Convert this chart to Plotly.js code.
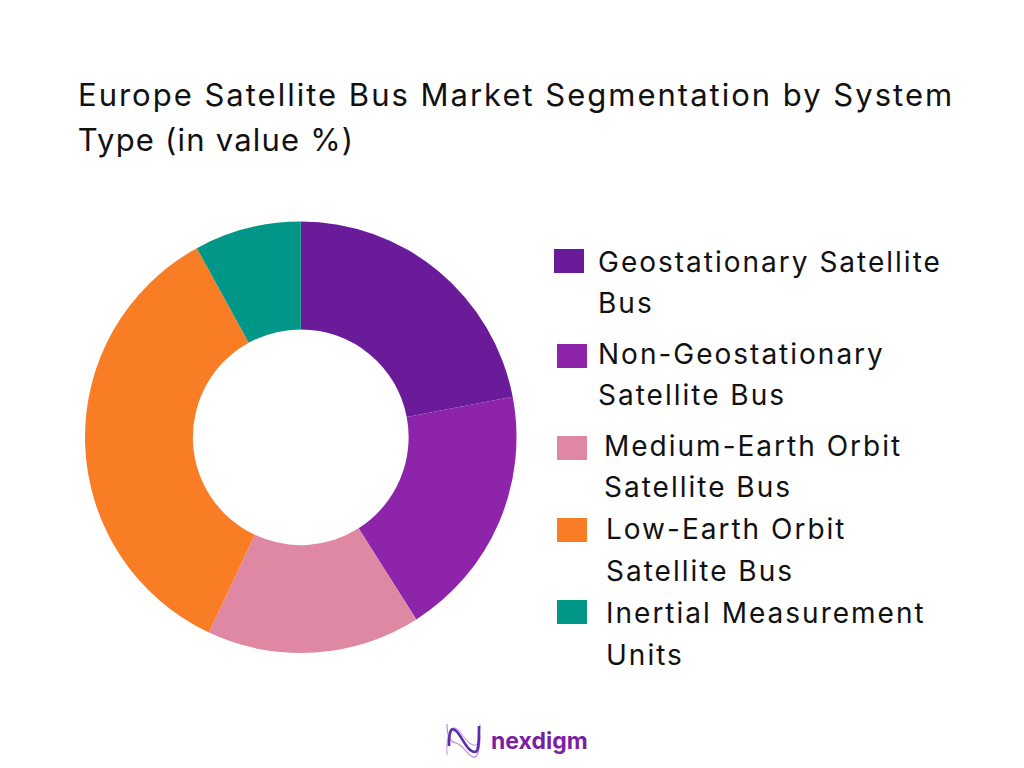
<!DOCTYPE html>
<html><head><meta charset="utf-8">
<script src="https://cdn.plot.ly/plotly-3.0.1.min.js"></script>
<style>html,body{margin:0;padding:0;background:#fff}#c{width:1024px;height:768px}
.annotation-text,.gtitle{letter-spacing:2px}
.annotation[data-index="10"] .annotation-text{letter-spacing:1.2px}
.annotation[data-index="11"] .annotation-text{letter-spacing:0}
</style>
</head><body><div id="c"></div>
<script>
const categories = ["Geostationary Satellite Bus","Non-Geostationary Satellite Bus","Medium-Earth Orbit Satellite Bus","Low-Earth Orbit Satellite Bus","Inertial Measurement Units"];
const values = [22,19,16,35,8];
const colors = ["#6A1B9A","#8E24AA","#DF88A3","#F97D24","#009688"];
const labelLines = [["Geostationary Satellite","Bus"],["Non-Geostationary","Satellite Bus"],["Medium-Earth Orbit","Satellite Bus"],["Low-Earth Orbit","Satellite Bus"],["Inertial Measurement","Units"]];
const titleLines = ["Europe Satellite Bus Market Segmentation by System","Type (in value %)"];
const brand = "nexdigm";

const W=1024,H=768, FONT='Inter, sans-serif';
const px=x=>x/W, py=y=>1-y/H;
const textX=[597,597,603,605,605];
const lineY=[[262,303],[354,395],[446,487],[529,571],[613,655]];
const swatch=[[554,249],[557,344],[557,436],[557,518],[557,600]];

const annotations=[], shapes=[];
const txt=(t,x,y,size,color,extra)=>annotations.push(Object.assign({text:t,xref:'paper',yref:'paper',x:px(x),y:py(y),xanchor:'left',yanchor:'middle',showarrow:false,font:{family:FONT,size:size,color:color},borderpad:0},extra||{}));
labelLines.forEach((ls,i)=>{
  ls.forEach((l,j)=>txt(l,textX[i],lineY[i][j],28,'#111111'));
  const [sx,sy]=swatch[i];
  shapes.push({type:'rect',xref:'paper',yref:'paper',x0:px(sx),x1:px(sx+30),y0:py(sy),y1:py(sy+24),fillcolor:colors[i],line:{width:0}});
});
txt(titleLines[1],70,140,31,'#111111');
txt(brand,483,741,23,'#7B1FA2',{font:{family:FONT,size:23,color:'#7B1FA2',weight:700}});

const X=x=>x/W, Y=y=>1-y/H;
const wave=(start,segs)=>'M'+X(start[0])+','+Y(start[1])+segs.map(s=>' C'+X(s[0])+','+Y(s[1])+' '+X(s[2])+','+Y(s[3])+' '+X(s[4])+','+Y(s[5])).join('');
[[[447,755],[[446,730,452,722,460,732],[468,743,472,746,476,745],[479,744,480,735,480,724]],'#C9A5E6',1.2],
 [[447,724],[[447,735,450,742,456,743],[464,745,468,757,474,757],[478,758,480,748,480,735]],'#B48AD9',1.2],
 [[449,746],[[449,728,452,726,458,733],[464,741,468,752,475,752],[479,752,479,740,479,726]],'#5E2BA8',2.6]
].forEach(([s,p,c,w])=>shapes.push({type:'path',xref:'paper',yref:'paper',path:wave(s,p),line:{color:c,width:w},fillcolor:'rgba(0,0,0,0)'}));

Plotly.newPlot('c',[{type:'pie',labels:categories,values:values,sort:false,direction:'clockwise',rotation:0,hole:0.5,
  marker:{colors:colors,line:{width:0}},textinfo:'none',hoverinfo:'label+percent',
  domain:{x:[85/W,516.5/W],y:[1-653/H,1-221.5/H]}}],
 {width:W,height:H,margin:{l:0,r:0,t:0,b:0},paper_bgcolor:'#fff',showlegend:false,
  title:{text:titleLines[0],x:px(78),xanchor:'left',xref:'paper',y:py(95),yanchor:'middle',yref:'paper',font:{family:FONT,size:31,color:'#111111'}},
  annotations:annotations,shapes:shapes},{displayModeBar:false,staticPlot:true});
</script></body></html>
